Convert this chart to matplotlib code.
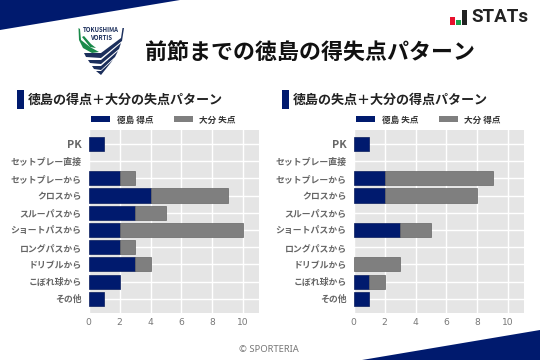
import matplotlib
matplotlib.use("Agg")
import matplotlib.pyplot as plt
from matplotlib.patches import Polygon, Rectangle

plt.rcParams['font.family'] = ['Noto Sans CJK JP', 'DejaVu Sans']

categories = ['PK', 'セットプレー直接', 'セットプレーから', 'クロスから', 'スルーパスから',
              'ショートパスから', 'ロングパスから', 'ドリブルから', 'こぼれ球から', 'その他']

left_tokushima = [1, 0, 2, 4, 3, 2, 2, 3, 2, 1]
left_oita = [0, 0, 1, 5, 2, 8, 1, 1, 0, 0]
right_tokushima = [1, 0, 2, 2, 0, 3, 0, 0, 1, 1]
right_oita = [0, 0, 7, 6, 0, 2, 0, 3, 1, 0]

navy = '#001a6e'
gray = '#7f7f7f'
W, H = 540, 360

fig = plt.figure(figsize=(5.4, 3.6), dpi=100)

# overlay in pixel coords for the decorations
bg = fig.add_axes([0, 0, 1, 1])
bg.set_xlim(0, W)
bg.set_ylim(H, 0)
bg.axis('off')

bg.add_patch(Polygon([(0, 0), (180, 0), (0, 30)], color=navy, lw=0))
bg.add_patch(Polygon([(362, 360), (540, 330), (540, 360)], color=navy, lw=0))

# team crest
bg.add_patch(Polygon([(78.5, 28), (80, 29), (81, 40), (90, 47), (99, 52), (92, 53), (83, 48), (79, 40)],
                     color='#1a8a4a', lw=0))
bg.add_patch(Polygon([(82, 37), (84, 36), (91, 44), (96, 48), (90, 47)], color='#1a8a4a', lw=0))
bg.add_patch(Polygon([(124, 28), (122.5, 28), (121, 38), (101, 53), (84, 53), (86, 57), (101, 58), (122, 41)],
                     color='#1c2f5c', lw=0))
bg.add_patch(Polygon([(121, 43), (101, 60), (88, 60), (90, 63), (101, 64), (119, 49)], color='#1c2f5c', lw=0))
bg.add_patch(Polygon([(118, 51), (101, 66), (92, 66), (94, 69), (101, 70), (115, 57)], color='#1c2f5c', lw=0))
bg.add_patch(Polygon([(113, 60), (101, 71), (96, 71), (101, 75)], color='#1c2f5c', lw=0))
bg.text(101, 29.5, 'TOKUSHIMA', fontsize=4.3, fontweight='bold', color='#1c2f5c', ha='center', va='center')
bg.text(101, 37, 'VORTIS', fontsize=4.3, fontweight='bold', color='#1c2f5c', ha='center', va='center')

# STATs mark
bg.add_patch(Rectangle((450, 17), 4.5, 8, color='#e8112d', lw=0))
bg.add_patch(Rectangle((456, 20), 4.5, 5, color='#1aa04c', lw=0))
bg.add_patch(Rectangle((462, 10), 4.5, 15, color='#222222', lw=0))
bg.text(471.5, 17.5, 'STATs', fontsize=13.5, fontweight='bold', color='#222222', ha='left', va='center',
        family=['Roboto', 'DejaVu Sans'])

bg.text(145, 53, '前節までの徳島の得失点パターン', fontsize=15.8, fontweight='bold', color='#111111',
        ha='left', va='center')

bg.add_patch(Rectangle((17, 90), 7, 19, color=navy, lw=0))
bg.add_patch(Rectangle((282, 90), 7, 19, color=navy, lw=0))
bg.text(28, 99.5, '徳島の得点＋大分の失点パターン', fontsize=9.4, fontweight='bold', color='#222222',
        ha='left', va='center')
bg.text(293, 99.5, '徳島の失点＋大分の得点パターン', fontsize=9.4, fontweight='bold', color='#222222',
        ha='left', va='center')

bg.text(269, 350, '© SPORTERIA', fontsize=6.8, color='#777777', ha='center', va='center',
        family=['Noto Sans', 'DejaVu Sans'])


def draw_panel(x0, first, second, first_label, second_label):
    x1 = x0 + 170
    top, bottom = 130, 312.7
    ax = fig.add_axes([x0 / W, 1 - bottom / H, (x1 - x0) / W, (bottom - top) / H])
    ax.set_facecolor('#e5e5e5')
    pos = list(range(len(categories)))
    # no outline on empty bars or they show up as thin lines
    lw_first = [0.5 if v > 0 else 0 for v in first]
    lw_second = [0.5 if v > 0 else 0 for v in second]
    ax.barh(pos, first, height=0.82, color=navy, edgecolor='#0a1c5c', linewidth=lw_first, label=first_label)
    ax.barh(pos, second, left=first, height=0.82, color=gray, edgecolor='#666666', linewidth=lw_second,
            label=second_label)
    ax.set_xlim(0, 11)
    ax.set_ylim(len(categories) - 1 + 0.81, -0.81)
    ax.set_xticks(range(0, 11, 2))
    ax.set_yticks(pos)
    ax.set_yticklabels(categories, fontsize=6.4, fontweight='bold', color='#666666')
    ax.get_yticklabels()[0].set_fontsize(7.8)
    ax.tick_params(axis='x', length=0, labelsize=6.6, labelcolor='#777777', pad=4)
    ax.tick_params(axis='y', length=0, pad=5)
    for lab in ax.get_xticklabels():
        lab.set_family('DejaVu Sans')
    ax.grid(True, color='white', linewidth=1)
    ax.set_axisbelow(True)
    for s in ax.spines.values():
        s.set_visible(False)

    # legend drawn by hand to hold the reference spacing
    bg.add_patch(Rectangle((x0 + 2.5, 116), 19, 6, color=navy, lw=0))
    bg.add_patch(Rectangle((x0 + 85, 116), 19, 6, color=gray, lw=0))
    bg.text(x0 + 28, 120, first_label, fontsize=6.2, fontweight='bold', color='#333333', ha='left', va='center')
    bg.text(x0 + 110.5, 120, second_label, fontsize=6.2, fontweight='bold', color='#333333', ha='left', va='center')


draw_panel(88.7, left_tokushima, left_oita, '徳島 得点', '大分 失点')
draw_panel(353.7, right_tokushima, right_oita, '徳島 失点', '大分 得点')

fig.savefig('out.png', dpi=100)
